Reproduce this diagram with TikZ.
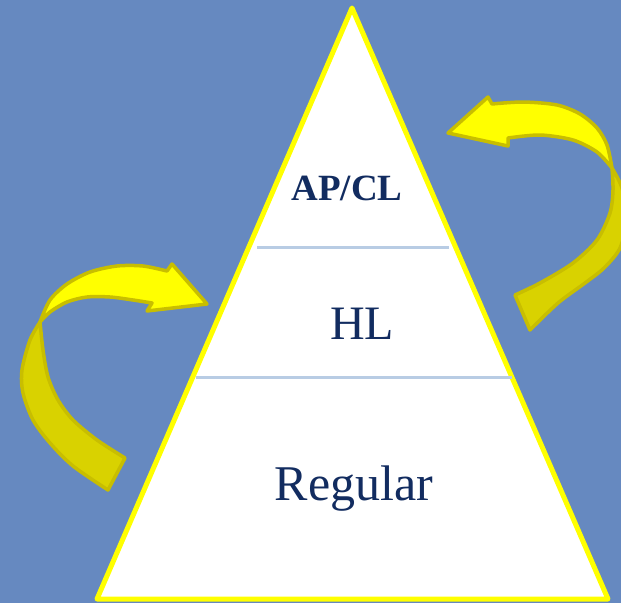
\documentclass[tikz,border=0pt]{standalone}
\usepackage{fontspec}
\setmainfont{Liberation Serif}
\definecolor{bgblue}{RGB}{102,137,192}
\definecolor{ylw}{RGB}{255,255,0}
\definecolor{darkylw}{RGB}{217,210,0}
\definecolor{olive}{RGB}{200,190,0}
\definecolor{divline}{RGB}{184,204,228}
\definecolor{navy}{RGB}{18,44,96}
\tikzset{
  arrowpart/.style={draw=olive,line width=3.5pt,line join=round},
  divider/.style={draw=divline,line width=3pt},
  label/.style={text=navy,anchor=base,inner sep=0pt}
}
\begin{document}
\begin{tikzpicture}[x=1pt,y=-1pt]
\useasboundingbox (0,0) rectangle (621,603);
\fill[bgblue] (0,0) rectangle (621,603);
% pyramid
\coordinate (apex) at (352,8);
\coordinate (bl) at (97,599);
\coordinate (br) at (608,599);
\filldraw[fill=white,draw=ylw,line width=5pt,line join=round] (apex) -- (bl) -- (br) -- cycle;
\coordinate (d1l) at (257,247);
\coordinate (d1r) at (449,247);
\coordinate (d2l) at (196,377);
\coordinate (d2r) at (512,377);
\draw[divider] (d1l) -- (d1r);
\draw[divider] (d2l) -- (d2r);
% labels
\node[label,font=\fontsize{37}{44}\selectfont\bfseries] (apcl) at (347,200) {AP/CL};
\node[label,font=\fontsize{48}{58}\selectfont] (hl) at (362,339) {HL};
\node[label,font=\fontsize{50}{60}\selectfont] (reg) at (354,500) {Regular};
% left arrow: dark lower part
\filldraw[arrowpart,fill=darkylw]
  plot[smooth] coordinates {(40,322) (30,340) (22,370) (23,393) (33,420) (50,443) (73,466) (108,490)}
  -- (125,458)
  -- plot[smooth] coordinates {(125,458) (97,440) (73,420) (58,400) (48,377) (43,350) (40,322)}
  -- cycle;
% left arrow: bright upper part with head
\filldraw[arrowpart,fill=ylw]
  plot[smooth] coordinates {(40,322) (50,300) (67,284) (90,272) (117,266) (143,266) (167,271)}
  -- (172,264) -- (207,304) -- (147,311) -- (152,303)
  -- plot[smooth] coordinates {(152,303) (133,300) (110,297) (87,297) (67,302) (50,312) (40,322)}
  -- cycle;
% right arrow: dark lower part
\filldraw[arrowpart,fill=darkylw]
  plot[smooth] coordinates {(612,168) (622,188) (627,218) (620,248) (604,268) (585,283) (558,303) (530,330)}
  -- (515,295)
  -- plot[smooth] coordinates {(515,295) (540,283) (573,263) (597,240) (610,213) (613,190) (612,168)}
  -- cycle;
% right arrow: bright upper part with head
\filldraw[arrowpart,fill=ylw]
  plot[smooth] coordinates {(612,168) (607,145) (597,128) (580,114) (557,105) (523,102) (492,104)}
  -- (488,97) -- (448,133) -- (508,146) -- (508,138)
  -- plot[smooth] coordinates {(508,138) (540,135) (573,140) (597,152) (612,168)}
  -- cycle;
\end{tikzpicture}
\end{document}
